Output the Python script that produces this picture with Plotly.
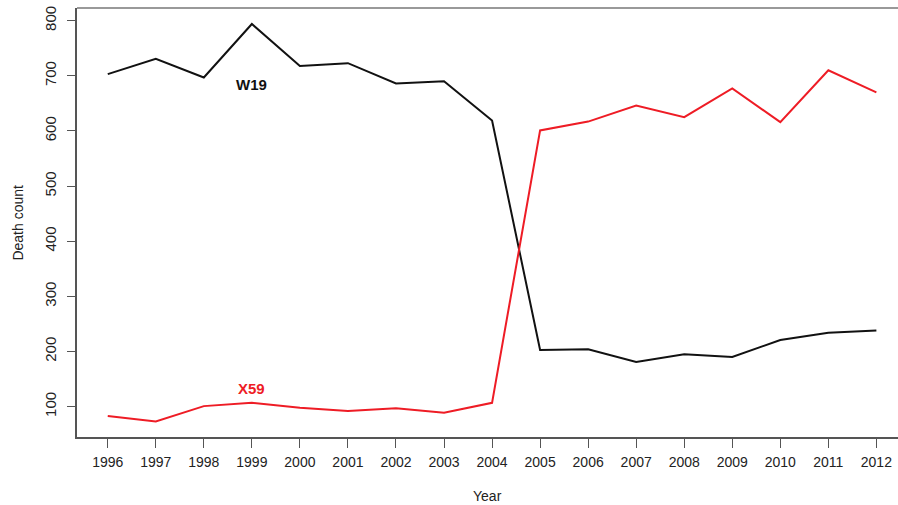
import plotly.graph_objects as go

years = list(range(1996, 2013))
w19 = [703, 731, 697, 794, 718, 723, 686, 690, 619, 203, 204, 181, 195, 190, 221, 234, 238]
x59 = [83, 73, 101, 107, 98, 92, 97, 89, 107, 601, 617, 646, 625, 677, 616, 710, 670]
y_ticks = [100, 200, 300, 400, 500, 600, 700, 800]

FONT = "Liberation Sans, Arial, Helvetica, sans-serif"

fig = go.Figure()
fig.add_trace(go.Scatter(x=years, y=w19, mode="lines", line=dict(color="#111111", width=2), name="W19"))
fig.add_trace(go.Scatter(x=years, y=x59, mode="lines", line=dict(color="#ee1c25", width=2), name="X59"))

fig.add_annotation(x=1999, y=685, text="<b>W19</b>", showarrow=False,
                   font=dict(family=FONT, size=15, color="#111111"))
fig.add_annotation(x=1999, y=133, text="<b>X59</b>", showarrow=False,
                   font=dict(family=FONT, size=15, color="#ee1c25"))

fig.add_annotation(x=0.5, xref="paper", y=-0.138, yref="paper", yanchor="middle",
                   text="Year", showarrow=False, font=dict(family=FONT, size=14, color="#222"))
fig.add_annotation(x=-0.073, xref="paper", xanchor="center", y=0.5, yref="paper",
                   text="Death count", textangle=-90, showarrow=False,
                   font=dict(family=FONT, size=14, color="#222"))

fig.add_shape(type="line", xref="paper", yref="paper", x0=0, x1=1, y0=1, y1=1,
              line=dict(color="#999999", width=2))

fig.update_layout(
    width=898, height=505,
    margin=dict(l=77, r=0, t=8, b=68),
    paper_bgcolor="white", plot_bgcolor="white",
    showlegend=False,
    font=dict(family=FONT, size=14, color="#222"),
    xaxis=dict(range=[1995.36, 2012.45], tickvals=years, ticktext=[str(y) for y in years],
               automargin=False,
               showgrid=False, zeroline=False, showline=True, linecolor="#555555", linewidth=2,
               ticks="outside", ticklen=9, tickcolor="#555555", tickwidth=1,
               ticklabelstandoff=2,
               tickfont=dict(family=FONT, size=14, color="#222")),
    yaxis=dict(range=[45, 823], tickvals=y_ticks, showgrid=False, zeroline=False,
               automargin=False,
               showline=True, linecolor="#555555", linewidth=2,
               ticks="outside", ticklen=8, tickcolor="#555555", tickwidth=1,
               ticklabelstandoff=5,
               tickangle=-90, tickfont=dict(family=FONT, size=15, color="#222")),
)

fig.write_html("out.html", config={"displayModeBar": False},
               post_script="document.body.style.margin='0';document.body.style.overflow='hidden';")
